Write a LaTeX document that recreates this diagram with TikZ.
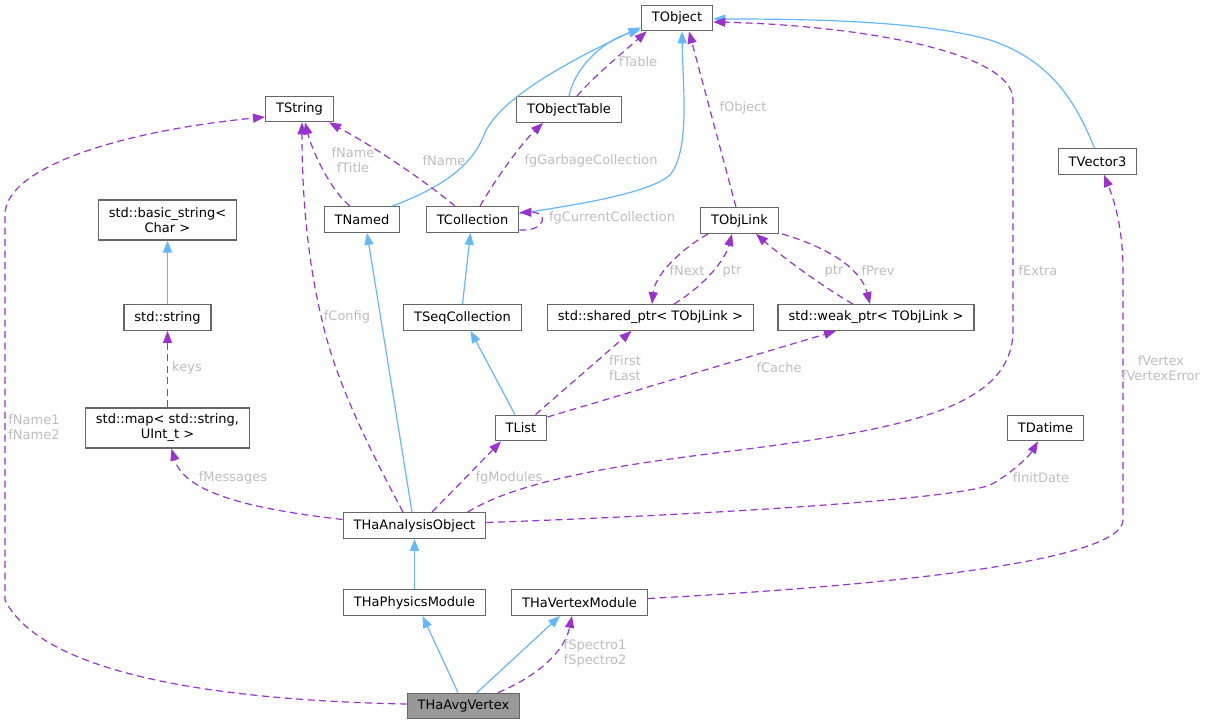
\documentclass[tikz,border=0pt]{standalone}
\usepackage{fontspec}
\setmainfont{DejaVu Sans}
\usetikzlibrary{arrows.meta,calc}

\definecolor{inhblue}{HTML}{63B8FF}
\definecolor{usepurple}{HTML}{9A32CD}
\definecolor{lblgrey}{HTML}{BEBEBE}
\definecolor{boxgrey}{HTML}{666666}
\definecolor{curgrey}{HTML}{999999}

\begin{document}
\begin{tikzpicture}[x=1pt,y=-1pt,>={Triangle[length=12pt,width=9pt]},
    class node/.style={rectangle,draw=boxgrey,fill=white,line width=1.3pt,
      minimum height=25.5pt,inner xsep=10.5pt,inner ysep=5pt,align=center,
      font=\fontsize{13}{15}\selectfont},
    inherit/.style={->,draw=inhblue,line width=1.2pt},
    member/.style={->,draw=usepurple,line width=1.2pt,dash pattern=on 7pt off 4.5pt},
    lbl text/.style={text=lblgrey,align=center,inner sep=0pt,
      font=\fontsize{13}{15}\selectfont}]

\fill[white] (0,0) rectangle (1205,725);

\node[class node] (tobject) at (677,18) {TObject};
\node[class node] (tstring) at (299.5,109) {TString};
\node[class node] (tobjecttable) at (569,109.5) {TObjectTable};
\node[class node] (tvector) at (1097.5,161.5) {TVector3};
\node[class node, minimum height=40pt] (basicstring) at (167.5,220) {std::basic\_string<\\Char >};
\node[class node] (tnamed) at (362,219.5) {TNamed};
\node[class node] (tcollection) at (472.5,219.5) {TCollection};
\node[class node] (tobjlink) at (739.5,220.5) {TObjLink};
\node[class node] (stdstring) at (167.5,317.5) {std::string};
\node[class node] (tseqcollection) at (462.5,317.5) {TSeqCollection};
\node[class node] (sharedptr) at (650.5,317.5) {std::shared\_ptr< TObjLink >};
\node[class node] (weakptr) at (876,317.5) {std::weak\_ptr< TObjLink >};
\node[class node, minimum height=40pt] (stdmap) at (167.5,428) {std::map< std::string,\\UInt\_t >};
\node[class node] (tlist) at (521,428) {TList};
\node[class node] (tdatime) at (1045.5,428) {TDatime};
\node[class node] (analysis) at (414.5,525.5) {THaAnalysisObject};
\node[class node] (physics) at (414.5,602.5) {THaPhysicsModule};
\node[class node] (vertexmod) at (579.5,602.5) {THaVertexModule};
\node[class node, fill=curgrey] (avg) at (463.5,706) {THaAvgVertex};

% inheritance
\path (stdstring.north) edge[inherit] (basicstring.south)
      (physics.north) edge[inherit] (analysis.south)
      (tseqcollection.north) edge[inherit] ($(tcollection.south)+(-2,0)$)
      ($(tlist.north)+(-6,0)$) edge[inherit] ($(tseqcollection.south)+(8,0)$)
      ($(analysis.north)+(-2.5,0)$) edge[inherit] ($(tnamed.south)+(5,0)$)
      ($(avg.north)+(-5.5,0)$) edge[inherit] ($(physics.south)+(8,0)$)
      ($(avg.north)+(13.5,0)$) edge[inherit] ($(vertexmod.south)+(-19.5,0)$);
\draw[inherit] (tobjecttable.north) .. controls (574,70) and (600,42) .. ($(tobject.south west)+(0,-2)$);
\draw[inherit] ($(tnamed.north east)+(-8,0)$) .. controls (445,186) and (472,165) .. (484,135)
  .. controls (498,98) and (575,58) .. ($(tobject.south west)+(0,-4)$);
\draw[inherit] ($(tcollection.east)+(0,-6)$) .. controls (590,203) and (650,192) .. (670,175)
  .. controls (690,150) and (683,90) .. ($(tobject.south)+(5,0)$);
\draw[inherit] ($(tvector.north)+(-3,0)$) .. controls (1075,100) and (1050,60) .. (990,40)
  .. controls (920,20) and (800,19) .. ($(tobject.east)+(0,1)$);

% members
\draw[member] ($(tobjecttable.north)+(8,0)$) .. controls (590,80) and (620,55) .. ($(tobject.south west)+(6,0)$)
  node[lbl text] at (638,62) {fTable};
\draw[member] ($(tcollection.north)+(7.5,0)$) .. controls (495,180) and (520,145) .. ($(tobjecttable.south)+(-26,0)$)
  node[lbl text] at (591,161) {fgGarbageCollection};
\draw[member] ($(tcollection.north)+(-17.5,0)$) .. controls (430,185) and (380,150) .. ($(tstring.south east)+(-5,0)$)
  node[lbl text] at (444,161) {fName};
\draw[member] ($(tnamed.north)+(-12,0)$) .. controls (330,190) and (312,150) .. ($(tstring.south)+(5.5,0)$)
  node[lbl text] at (353,160) {fName\\fTitle};
\draw[member] ($(tcollection.south east)+(0,-3)$) .. controls (545,232) and (550,212) .. ($(tcollection.east)+(0,-7)$)
  node[lbl text] at (612,218) {fgCurrentCollection};
\draw[member] ($(tobjlink.north)+(-3.5,0)$) -- ($(tobject.south)+(12,0)$)
  node[lbl text] at (743,108) {fObject};
\draw[member] ($(tobjlink.south west)+(8,0)$) .. controls (680,250) and (655,275) .. ($(sharedptr.north)+(1.5,0)$)
  node[lbl text] at (687,271) {fNext};
\draw[member] ($(sharedptr.north)+(23.5,0)$) .. controls (705,285) and (725,260) .. ($(tobjlink.south)+(-7.5,0)$)
  node[lbl text] at (732,271) {ptr};
\draw[member] ($(weakptr.north)+(-23,0)$) .. controls (820,285) and (780,255) .. ($(tobjlink.south east)+(-23,0)$)
  node[lbl text] at (834,271) {ptr};
\draw[member] ($(tobjlink.south east)+(3,0)$) .. controls (820,245) and (860,265) .. ($(weakptr.north)+(-6,0)$)
  node[lbl text] at (878,271) {fPrev};
\draw[member] ($(tlist.north east)+(-12,0)$) -- ($(sharedptr.south)+(-19,0)$)
  node[lbl text] at (625,368) {fFirst\\fLast};
\draw[member] ($(tlist.east)+(0,-11)$) -- ($(weakptr.south)+(-40,0)$)
  node[lbl text] at (779,368) {fCache};
\draw[member] (stdmap.north) -- (stdstring.south)
  node[lbl text] at (187,368) {keys};
\draw[member] ($(analysis.west)+(0,-6)$) .. controls (260,510) and (185,495) .. ($(stdmap.south)+(4,0)$)
  node[lbl text] at (233,478) {fMessages};
\draw[member] ($(analysis.north)+(-11.5,0)$) .. controls (370,450) and (335,380) .. (322,320)
  .. controls (305,250) and (302,180) .. ($(tstring.south)+(2.5,0)$)
  node[lbl text] at (347,317) {fConfig};
\draw[member] ($(analysis.north)+(17.5,0)$) -- ($(tlist.south)+(-20,0)$)
  node[lbl text] at (509,478) {fgModules};
\draw[member] ($(analysis.north)+(53,0)$) .. controls (520,480) and (620,465) .. (716,453)
  .. controls (900,430) and (1013,410) .. (1013,330) -- (1013,100)
  .. controls (1013,50) and (850,25) .. ($(tobject.east)+(0,4)$)
  node[lbl text] at (1038,271) {fExtra};
\draw[member] ($(analysis.east)+(0,-3)$) .. controls (700,515) and (950,500) .. (990,485)
  .. controls (1010,475) and (1030,455) .. ($(tdatime.south)+(-7.5,0)$)
  node[lbl text] at (1041,478) {fInitDate};
\draw[member] ($(vertexmod.east)+(0,-4)$) .. controls (900,585) and (1123,560) .. (1123,520)
  -- (1123,270) .. controls (1123,220) and (1110,190) .. ($(tvector.south)+(6.5,0)$)
  node[lbl text] at (1161,368) {fVertex\\fVertexError};
\draw[member] ($(avg.north)+(34.5,0)$) .. controls (540,675) and (565,650) .. ($(vertexmod.south)+(-7.5,0)$)
  node[lbl text] at (595,653) {fSpectro1\\fSpectro2};
\draw[member] ($(avg.west)+(0,-2)$) .. controls (200,700) and (40,670) .. (5,600) -- (5,215)
  .. controls (5,165) and (130,130) .. ($(tstring.west)+(0,8)$)
  node[lbl text] at (34,427) {fName1\\fName2};
\end{tikzpicture}
\end{document}
